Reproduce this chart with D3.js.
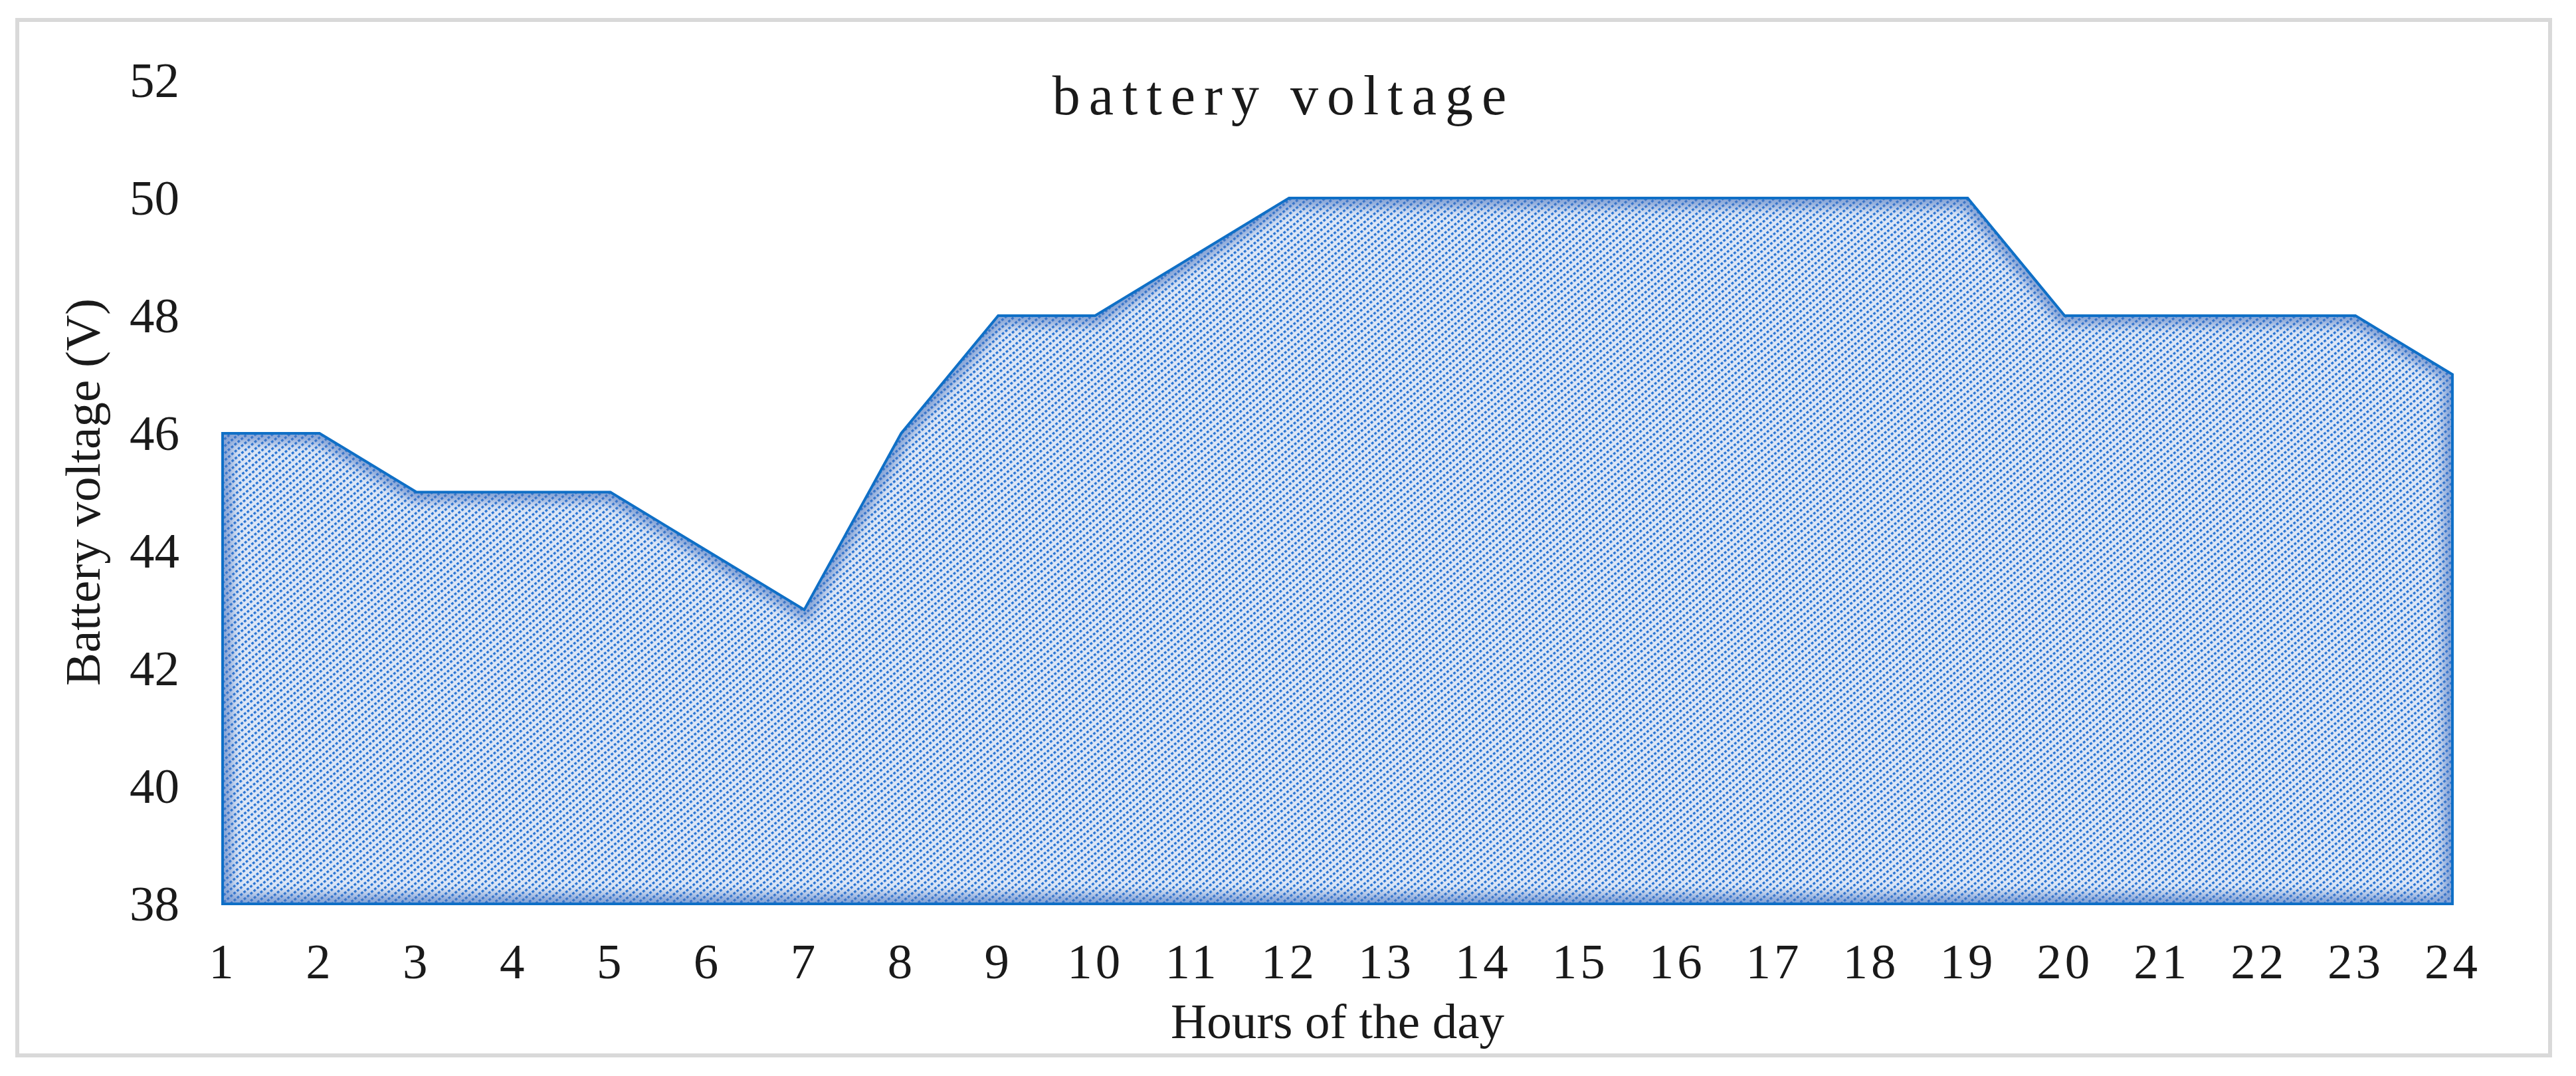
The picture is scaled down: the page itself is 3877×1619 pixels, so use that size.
<!DOCTYPE html>
<html>
<head>
<meta charset="utf-8">
<script src="https://cdn.jsdelivr.net/npm/d3@7/dist/d3.min.js"></script>
<style>
  body { margin: 0; background: #fff; }
  text { font-family: "Liberation Serif", "Times New Roman", serif; fill: #1a1a1a; }
</style>
</head>
<body>
<div id="chart"></div>
<script>
// hours of the day and battery voltage
const hours = [1, 2, 3, 4, 5, 6, 7, 8, 9, 10, 11, 12, 13, 14, 15, 16, 17, 18, 19, 20, 21, 22, 23, 24];
const voltage = [46, 46, 45, 45, 45, 44, 43, 46, 48, 48, 49, 50, 50, 50, 50, 50, 50, 50, 50, 48, 48, 48, 48, 47];
const yTicks = [38, 40, 42, 44, 46, 48, 50, 52];

const W = 3877, H = 1619;
const margin = {top: 121, right: 3877 - 3691, bottom: 1619 - 1360, left: 335};

const data = hours.map((h, i) => ({h: h, v: voltage[i]}));

const x = d3.scaleLinear().domain([1, 24]).range([margin.left, W - margin.right]);
const y = d3.scaleLinear().domain([38, 52]).range([H - margin.bottom, margin.top]);

const svg = d3.select("#chart").append("svg")
    .attr("width", W)
    .attr("height", H);

svg.append("rect")
    .attr("width", W).attr("height", H)
    .attr("fill", "#fff");

// chart border
svg.append("rect")
    .attr("x", 26).attr("y", 30)
    .attr("width", 3812).attr("height", 1558)
    .attr("fill", "none")
    .attr("stroke", "#d9d9d9")
    .attr("stroke-width", 6);

const defs = svg.append("defs");

// dotted upward diagonal pattern
const pw = 6.4, ph = 8.2;
const pat = defs.append("pattern")
    .attr("id", "hatch")
    .attr("patternUnits", "userSpaceOnUse")
    .attr("width", pw)
    .attr("height", ph)
    .attr("patternTransform", "rotate(-40)");
pat.append("rect").attr("width", pw).attr("height", ph).attr("fill", "#dce6f6");
pat.append("rect").attr("width", 3.8).attr("height", 3.4).attr("fill", "#2874d4");

const blur = defs.append("filter").attr("id", "glow")
    .attr("x", "-10%").attr("y", "-10%").attr("width", "120%").attr("height", "120%");
blur.append("feGaussianBlur").attr("stdDeviation", 8);

const area = d3.area()
    .x(d => x(d.h))
    .y0(y(38))
    .y1(d => y(d.v));

defs.append("clipPath").attr("id", "areaClip")
  .append("path")
    .attr("d", area(data));

svg.append("path")
    .attr("d", area(data))
    .attr("fill", "url(#hatch)");

// soft inner shading along the edges
svg.append("g")
    .attr("clip-path", "url(#areaClip)")
  .append("path")
    .attr("d", area(data))
    .attr("fill", "none")
    .attr("stroke", "#4a74c0")
    .attr("stroke-opacity", 0.6)
    .attr("stroke-width", 28)
    .attr("filter", "url(#glow)");

svg.append("path")
    .attr("d", area(data))
    .attr("fill", "none")
    .attr("stroke", "#0f6fc6")
    .attr("stroke-width", 4)
    .attr("stroke-linejoin", "miter");

// axes
const xAxis = d3.axisBottom(x).tickValues(hours).tickFormat(d3.format("d")).tickSize(0).tickPadding(59);
const yAxis = d3.axisLeft(y).tickValues(yTicks).tickSize(0).tickPadding(65);

const gx = svg.append("g")
    .attr("transform", "translate(0," + y(38) + ")")
    .call(xAxis);
gx.select(".domain").remove();
gx.selectAll("text")
    .attr("font-size", 75)
    .attr("font-family", "Liberation Serif")
    .attr("fill", "#1a1a1a")
    .style("letter-spacing", "5px");

const gy = svg.append("g")
    .attr("transform", "translate(" + x(1) + ",0)")
    .call(yAxis);
gy.select(".domain").remove();
gy.selectAll("text")
    .attr("font-size", 75)
    .attr("font-family", "Liberation Serif")
    .attr("fill", "#1a1a1a");

// titles
svg.append("text")
    .attr("x", 1932)
    .attr("y", 172)
    .attr("text-anchor", "middle")
    .attr("font-size", 84)
    .style("letter-spacing", "13px")
    .text("battery voltage");

svg.append("text")
    .attr("x", (x(1) + x(24)) / 2)
    .attr("y", 1562)
    .attr("text-anchor", "middle")
    .attr("font-size", 75)
    .text("Hours of the day");

svg.append("text")
    .attr("transform", "translate(150," + ((y(38) + y(52)) / 2) + ") rotate(-90)")
    .attr("text-anchor", "middle")
    .attr("font-size", 75)
    .text("Battery voltage (V)");
</script>
</body>
</html>
